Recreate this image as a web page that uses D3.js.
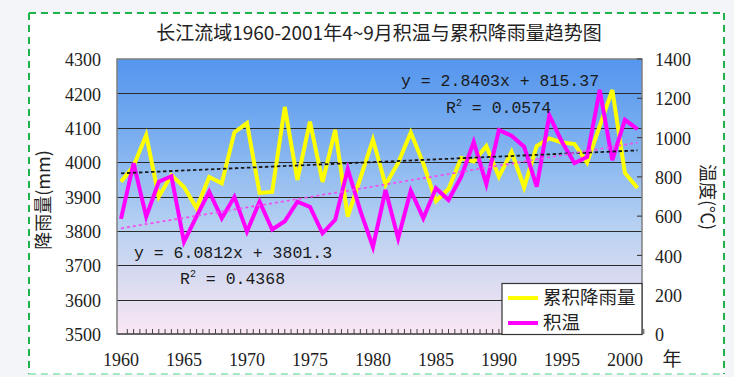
<!DOCTYPE html>
<html><head><meta charset="utf-8">
<script src="https://cdn.jsdelivr.net/npm/d3@7"></script>
<style>
html,body{margin:0;padding:0;background:#f3f5f8;}
svg{display:block;}
</style></head>
<body>
<svg id="chart" width="734" height="377"></svg>
<script>
// ---- data ----
const years = [1960,1961,1962,1963,1964,1965,1966,1967,1968,1969,1970,1971,1972,1973,1974,1975,1976,1977,1978,1979,1980,1981,1982,1983,1984,1985,1986,1987,1988,1989,1990,1991,1992,1993,1994,1995,1996,1997,1998,1999,2000,2001];
// 累积降雨量 (plotted against the right-hand scale)
const rain = [775,855,1013,699,809,748,640,799,767,1026,1074,718,723,1156,784,1081,774,1039,597,794,990,759,871,1026,868,677,738,896,878,956,801,927,747,957,996,975,967,873,1059,1242,820,743];
// 积温 (plotted against the left-hand scale)
const temp = [3835,3997,3841,3943,3959,3768,3842,3914,3837,3899,3798,3885,3804,3828,3885,3870,3793,3832,3980,3858,3753,3919,3778,3917,3837,3924,3890,3957,4059,3936,4093,4077,4045,3929,4136,4059,3997,4015,4210,4006,4123,4096];
const rainTrend = [2.8403, 815.37];   // slope, intercept (x = 1..n)
const tempTrend = [6.0812, 3801.3];
const leftTicks = [3500,3600,3700,3800,3900,4000,4100,4200,4300];
const rightTicks = [0,200,400,600,800,1000,1200,1400];
const xTicks = [1960,1965,1970,1975,1980,1985,1990,1995,2000];
const seriesNames = ["累积降雨量","积温"];
const titleText = "长江流域1960-2001年4~9月积温与累积降雨量趋势图";

// ---- layout ----
const svg = d3.select("#chart");
const P = {l:117, r:642, t:59, b:334};
const x = d3.scaleLinear().domain([1960,2001]).range([121,637.5]);
const yL = d3.scaleLinear().domain([3500,4300]).range([P.b,P.t]);
const yR = d3.scaleLinear().domain([0,1400]).range([P.b,P.t]);

// white card with green dashed frame
svg.append("rect").attr("x",29).attr("y",13).attr("width",695).attr("height",361).attr("fill","#fff");
const g0 = svg.append("g").attr("fill","none").attr("stroke-width",2).attr("stroke-dasharray","7,5");
g0.append("line").attr("x1",29).attr("y1",13).attr("x2",724).attr("y2",13).attr("stroke","#1fb14a");
g0.append("line").attr("x1",29).attr("y1",13).attr("x2",29).attr("y2",374).attr("stroke","#1fb14a");
g0.append("line").attr("x1",724).attr("y1",13).attr("x2",724).attr("y2",374).attr("stroke","#1fb14a");
g0.append("line").attr("x1",29).attr("y1",374).attr("x2",724).attr("y2",374).attr("stroke","#a6e8c2");

// gradient
const defs = svg.append("defs");
const gr = defs.append("linearGradient").attr("id","bg").attr("x1",0).attr("y1",0).attr("x2",0).attr("y2",1);
[[0,"#5495ee"],[0.3,"#7db0f0"],[0.6,"#b5d0f1"],[0.82,"#dcdcf1"],[1,"#fbe6f4"]].forEach(s=>gr.append("stop").attr("offset",s[0]).attr("stop-color",s[1]));
svg.append("rect").attr("x",P.l).attr("y",P.t).attr("width",P.r-P.l).attr("height",P.b-P.t).attr("fill","url(#bg)");

// gridlines
svg.append("g").selectAll("line").data(leftTicks.slice(1,-1)).join("line")
  .attr("x1",P.l).attr("x2",P.r).attr("y1",d=>Math.round(yL(d))+0.5).attr("y2",d=>Math.round(yL(d))+0.5)
  .attr("stroke","#2a2a2a").attr("stroke-width",1.2);

// plot border
svg.append("rect").attr("x",P.l).attr("y",P.t).attr("width",P.r-P.l).attr("height",P.b-P.t)
  .attr("fill","none").attr("stroke","#7f7f7f").attr("stroke-width",1.5);
svg.append("line").attr("x1",P.l).attr("x2",P.r).attr("y1",P.b).attr("y2",P.b).attr("stroke","#555").attr("stroke-width",1.5);

// minor ticks on bottom axis (inside)
const minor = d3.range(1960.5, 2001.6, 0.5);
svg.append("g").selectAll("line").data(minor).join("line")
  .attr("x1",d=>x(d)).attr("x2",d=>x(d)).attr("y1",P.b).attr("y2",P.b-5)
  .attr("stroke","#444").attr("stroke-width",1);
// right axis ticks (inside)
svg.append("g").selectAll("line").data(rightTicks).join("line")
  .attr("x1",P.r-5).attr("x2",P.r).attr("y1",d=>yR(d)).attr("y2",d=>yR(d))
  .attr("stroke","#444").attr("stroke-width",1.2);

const numFont = "'Liberation Serif', serif";
const cjk = "'Noto Sans CJK SC', sans-serif";
// left tick labels
svg.append("g").selectAll("text").data(leftTicks).join("text")
  .attr("x",101).attr("y",d=>yL(d)+3).attr("dominant-baseline","middle").attr("text-anchor","end")
  .attr("font-family",numFont).attr("font-size",18).attr("fill","#222").text(d=>d);
// right tick labels
svg.append("g").selectAll("text").data(rightTicks).join("text")
  .attr("x",655).attr("y",d=>yR(d)+3).attr("dominant-baseline","middle").attr("text-anchor","start")
  .attr("font-family",numFont).attr("font-size",18).attr("fill","#222").text(d=>d);
// x tick labels
svg.append("g").selectAll("text").data(xTicks).join("text")
  .attr("x",d=>x(d)).attr("y",362).attr("dominant-baseline","middle").attr("text-anchor","middle")
  .attr("font-family",numFont).attr("font-size",18).attr("fill","#222").text(d=>d);
svg.append("text").attr("x",672).attr("y",361).attr("dominant-baseline","middle").attr("text-anchor","middle")
  .attr("font-family",cjk).attr("font-size",19).attr("fill","#222").text("年");

// axis titles
svg.append("text").attr("transform","translate(45,200) rotate(-90)").attr("text-anchor","middle").attr("dominant-baseline","middle")
  .attr("font-family",cjk).attr("font-size",18).attr("fill","#222").text("降雨量(mm)");
svg.append("text").attr("transform","translate(706,197) rotate(90)").attr("text-anchor","middle").attr("dominant-baseline","middle")
  .attr("font-family",cjk).attr("font-size",18).attr("fill","#222").text("温度(℃)");

// title
svg.append("text").attr("x",379).attr("y",35).attr("text-anchor","middle").attr("dominant-baseline","middle")
  .attr("font-family",cjk).attr("font-size",19).attr("fill","#222").text(titleText);

// series
const lineR = d3.line().x((d,i)=>x(years[i])).y(d=>yR(d));
const lineL = d3.line().x((d,i)=>x(years[i])).y(d=>yL(d));
svg.append("path").datum(rain).attr("d",lineR).attr("fill","none").attr("stroke","#ffff00").attr("stroke-width",4).attr("stroke-linejoin","miter");
svg.append("path").datum(temp).attr("d",lineL).attr("fill","none").attr("stroke","#ff00ff").attr("stroke-width",4).attr("stroke-linejoin","miter");

// trend lines
const n = years.length;
const tR = [1,n].map(k=>[x(years[k-1]), yR(rainTrend[0]*k+rainTrend[1])]);
const tL = [1,n].map(k=>[x(years[k-1]), yL(tempTrend[0]*k+tempTrend[1])]);
svg.append("path").attr("d",d3.line()(tR)).attr("stroke","#1a1a1a").attr("stroke-width",1.8).attr("stroke-dasharray","3.5,2.5").attr("fill","none");
svg.append("path").attr("d",d3.line()(tL)).attr("stroke","#f050f0").attr("stroke-width",1.8).attr("stroke-dasharray","3,3").attr("fill","none");

// equations
const eqFont = "'Liberation Mono', monospace";
function eq(xp, yp, txt){
  svg.append("text").attr("x",xp).attr("y",yp).attr("font-family",eqFont).attr("font-size",16.5).attr("fill","#1a1a1a").text(txt);
}
function r2(xp, yp, val){
  const t = svg.append("text").attr("x",xp).attr("y",yp).attr("font-family",eqFont).attr("font-size",16.5).attr("fill","#1a1a1a");
  t.append("tspan").text("R");
  t.append("tspan").attr("font-size",10).attr("dy",-7).text("2");
  t.append("tspan").attr("dy",7).text(" = " + val);
}
eq(401, 86, "y = " + rainTrend[0] + "x + " + rainTrend[1]);
r2(446, 113, "0.0574");
eq(134, 258, "y = " + tempTrend[0] + "x + " + tempTrend[1]);
r2(180, 284, "0.4368");

// legend
svg.append("rect").attr("x",502).attr("y",283.5).attr("width",140).attr("height",51).attr("fill","#fff").attr("stroke","#333").attr("stroke-width",1.2);
const lg = [[seriesNames[0],"#ffff00",298],[seriesNames[1],"#ff00ff",323]];
lg.forEach(d=>{
  svg.append("line").attr("x1",508).attr("x2",538).attr("y1",d[2]).attr("y2",d[2]).attr("stroke",d[1]).attr("stroke-width",4);
  svg.append("text").attr("x",543).attr("y",d[2]+1).attr("dominant-baseline","middle").attr("font-family",cjk).attr("font-size",18.5).attr("fill","#222").text(d[0]);
});
</script>
</body></html>
